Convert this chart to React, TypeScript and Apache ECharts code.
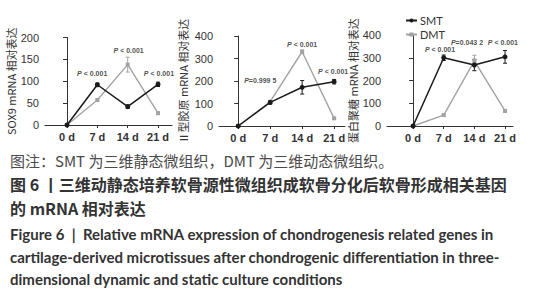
import React, { useEffect, useRef } from "react";
import * as echarts from "echarts";

const categories = ["0 d", "7 d", "14 d", "21 d"];
const xIdx = [0, 1, 2, 3];

const sox9Smt = [0, 92, 42, 93];
const sox9Dmt = [0, 57, 138, 27];
const sox9SmtErr = [0, 4, 4, 5];
const sox9DmtErr = [0, 3, 17, 3];

const col2Smt = [0, 105, 172, 197];
const col2Dmt = [0, 108, 330, 34];
const col2SmtErr = [0, 8, 30, 10];
const col2DmtErr = [0, 5, 8, 5];

const acanSmt = [0, 300, 268, 304];
const acanDmt = [0, 48, 286, 66];
const acanSmtErr = [0, 12, 25, 28];
const acanDmtErr = [0, 5, 25, 5];

const sox9PText = ["P < 0.001", "P < 0.001", "P < 0.001"];
const sox9PX = [0.83, 2.03, 3.03];
const sox9PY = [117, 171, 117];

const col2PText = ["P=0.999 5", "P < 0.001", "P < 0.001"];
const col2PX = [0.69, 2.0, 2.97];
const col2PY = [204, 364, 241];

const acanPText = ["P < 0.001", "P=0.043 2", "P < 0.001"];
const acanPX = [0.88, 1.76, 2.93];
const acanPY = [338, 365, 365];

const yNames = ["SOX9 mRNA 相对表达", "Ⅱ型胶原 mRNA 相对表达", "蛋白聚糖 mRNA 相对表达"];
const yMax = [200, 400, 400];
const yInterval = [50, 100, 100];

const captionNote = "图注：SMT 为三维静态微组织，DMT 为三维动态微组织。";
const captionCn1 = "图 6 丨三维动静态培养软骨源性微组织成软骨分化后软骨形成相关基因";
const captionCn2 = "的 mRNA 相对表达";
const captionEn = [
  "Figure 6  |  Relative mRNA expression of chondrogenesis related genes in",
  "cartilage-derived microtissues after chondrogenic differentiation in three-",
  "dimensional dynamic and static culture conditions",
];

const SMT_COLOR = "#1a1a1a";
const DMT_COLOR = "#a3a3a3";
const AXIS_COLOR = "#333";
const FONT = "'Liberation Sans', Arial, sans-serif";
const LATO = "Lato, 'Liberation Sans', sans-serif";
const CJK = "'Noto Sans CJK SC', sans-serif";

const grids = [
  { left: 45, top: 37.5, width: 127, height: 87.5, xmin: -0.725, xmax: 3.46, nameGap: 24 },
  { left: 219, top: 36, width: 126, height: 90, xmin: -0.6, xmax: 3.34, nameGap: 31 },
  { left: 387, top: 35, width: 126, height: 91, xmin: -0.85, xmax: 3.26, nameGap: 21 },
];

const panels = [
  { smt: sox9Smt, dmt: sox9Dmt, smtErr: sox9SmtErr, dmtErr: sox9DmtErr, pText: sox9PText, pX: sox9PX, pY: sox9PY },
  { smt: col2Smt, dmt: col2Dmt, smtErr: col2SmtErr, dmtErr: col2DmtErr, pText: col2PText, pX: col2PX, pY: col2PY },
  { smt: acanSmt, dmt: acanDmt, smtErr: acanSmtErr, dmtErr: acanDmtErr, pText: acanPText, pX: acanPX, pY: acanPY },
];

function errRender(color: string) {
  return (params: any, api: any) => {
    const x = api.value(0);
    const y = api.value(1);
    const e = api.value(2);
    if (!e) return null;
    const top = api.coord([x, y + e]);
    const bot = api.coord([x, y - e]);
    const cap = 2;
    const style = { stroke: color, lineWidth: 1 };
    return {
      type: "group",
      children: [
        { type: "line", shape: { x1: top[0], y1: top[1], x2: bot[0], y2: bot[1] }, style },
        { type: "line", shape: { x1: top[0] - cap, y1: top[1], x2: top[0] + cap, y2: top[1] }, style },
        { type: "line", shape: { x1: bot[0] - cap, y1: bot[1], x2: bot[0] + cap, y2: bot[1] }, style },
      ],
    };
  };
}

export default function App() {
  const ref = useRef<HTMLDivElement>(null);
  useEffect(() => {
    if (!ref.current) return;
    const chart = echarts.init(ref.current, null, { renderer: "svg" });

    const grid = grids.map((g) => ({ left: g.left, top: g.top, width: g.width, height: g.height, containLabel: false }));
    const xAxis = grids.map((g, i) => ({
      type: "value",
      gridIndex: i,
      min: g.xmin,
      max: g.xmax,
      splitLine: { show: false },
      axisLine: { show: true, lineStyle: { color: AXIS_COLOR, width: 1 } },
      axisTick: { show: true, length: 3, customValues: xIdx, lineStyle: { color: AXIS_COLOR } },
      axisLabel: {
        customValues: xIdx,
        formatter: (v: number) => categories[Math.round(v)] ?? "",
        color: "#333",
        fontSize: 11,
        fontWeight: "bold",
        fontFamily: FONT,
        margin: 6,
      },
    }));
    const yAxis = grids.map((g, i) => ({
      type: "value",
      gridIndex: i,
      min: 0,
      max: yMax[i],
      interval: yInterval[i],
      name: yNames[i],
      nameLocation: "middle",
      nameGap: g.nameGap,
      nameTextStyle: { color: "#333", fontSize: 11, fontFamily: CJK },
      splitLine: { show: false },
      axisLine: { show: true, lineStyle: { color: AXIS_COLOR, width: 1 } },
      axisTick: { show: true, length: 4, lineStyle: { color: AXIS_COLOR } },
      axisLabel: { color: "#333", fontSize: 11, fontFamily: FONT, margin: 6 },
    }));

    const series: any[] = [];
    panels.forEach((p, i) => {
      series.push({
        type: "custom",
        name: "errDMT" + i,
        xAxisIndex: i,
        yAxisIndex: i,
        renderItem: errRender(DMT_COLOR),
        data: xIdx.map((x, k) => [x, p.dmt[k], p.dmtErr[k]]),
        z: 1,
      });
      series.push({
        type: "custom",
        name: "errSMT" + i,
        xAxisIndex: i,
        yAxisIndex: i,
        renderItem: errRender(SMT_COLOR),
        data: xIdx.map((x, k) => [x, p.smt[k], p.smtErr[k]]),
        z: 1,
      });
      series.push({
        type: "line",
        name: "DMT",
        xAxisIndex: i,
        yAxisIndex: i,
        data: xIdx.map((x, k) => [x, p.dmt[k]]),
        symbol: "rect",
        symbolSize: 4,
        lineStyle: { color: DMT_COLOR, width: 1.4 },
        itemStyle: { color: DMT_COLOR },
        z: 2,
      });
      series.push({
        type: "line",
        name: "SMT",
        xAxisIndex: i,
        yAxisIndex: i,
        data: xIdx.map((x, k) => [x, p.smt[k]]),
        symbol: "circle",
        symbolSize: 5,
        lineStyle: { color: SMT_COLOR, width: 1.5 },
        itemStyle: { color: SMT_COLOR },
        z: 3,
      });
      series.push({
        type: "scatter",
        name: "p" + i,
        xAxisIndex: i,
        yAxisIndex: i,
        symbolSize: 0,
        silent: true,
        data: p.pText.map((t, k) => [p.pX[k], p.pY[k], t]),
        label: {
          show: true,
          position: "inside",
          formatter: (prm: any) => {
            const t: string = prm.data[2];
            return "{i|P}{n|" + t.slice(1) + "}";
          },
          rich: {
            i: { fontStyle: "italic", fontWeight: "bold", fontSize: 7, color: "#222", fontFamily: FONT },
            n: { fontWeight: "bold", fontSize: 7, color: "#222", fontFamily: FONT },
          },
        },
        z: 5,
      });
    });

    const capStyle = (size: number, weight: string, color: string, family: string) => ({
      fontSize: size,
      fontWeight: weight,
      fill: color,
      fontFamily: family,
    });

    chart.setOption({
      animation: false,
      backgroundColor: "#fff",
      grid,
      xAxis,
      yAxis,
      legend: {
        data: ["SMT", "DMT"],
        orient: "vertical",
        left: 400,
        top: 10,
        itemGap: 3,
        itemWidth: 11,
        itemHeight: 5,
        textStyle: { color: "#333", fontSize: 11, fontFamily: LATO, padding: [0, 0, 0, -2] },
      },
      graphic: [
        { type: "text", left: 10, top: 153, style: { text: captionNote, ...capStyle(15, "normal", "#4a4a4a", CJK) } },
        { type: "text", left: 10, top: 176, style: { text: captionCn1, ...capStyle(16, "bold", "#333", CJK) } },
        { type: "text", left: 10, top: 200, style: { text: captionCn2, ...capStyle(16, "bold", "#333", CJK) } },
        { type: "text", left: 10, top: 226, style: { text: captionEn[0], ...capStyle(15, "bold", "#333", LATO) } },
        { type: "text", left: 10, top: 249, style: { text: captionEn[1], ...capStyle(15, "bold", "#333", LATO) } },
        { type: "text", left: 10, top: 271, style: { text: captionEn[2], ...capStyle(15, "bold", "#333", LATO) } },
      ],
      series,
    });
    return () => chart.dispose();
  }, []);
  return <div ref={ref} style={{ position: "fixed", left: 0, top: 0, width: 541, height: 300 }} />;
}
